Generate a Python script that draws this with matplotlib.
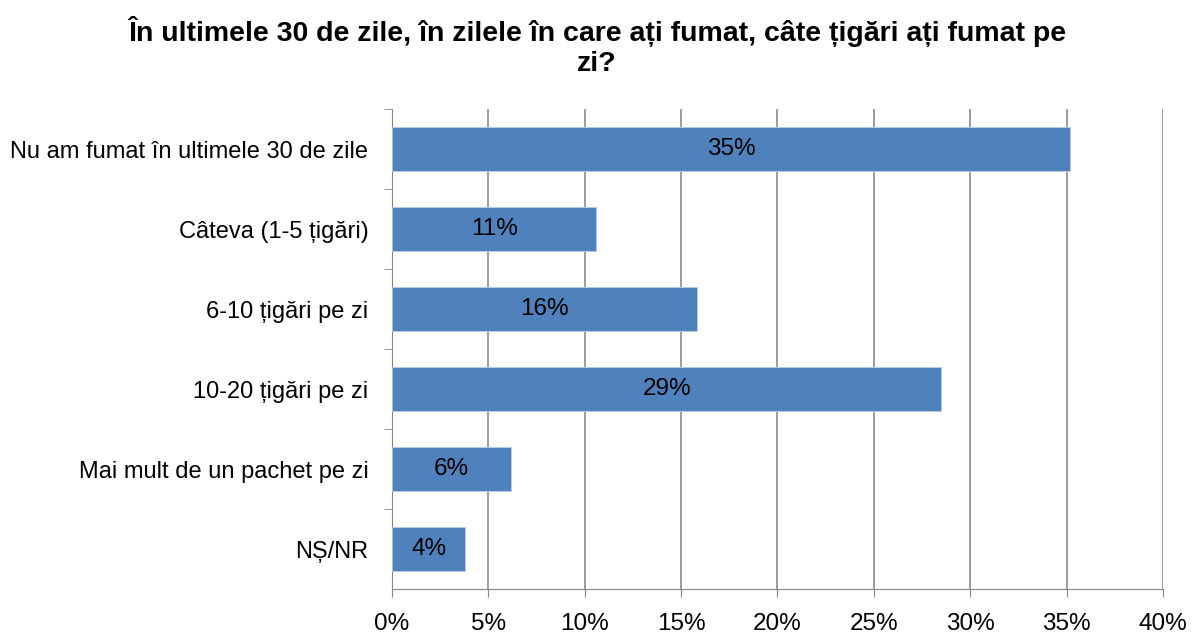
import matplotlib
matplotlib.use("Agg")
import matplotlib.pyplot as plt

plt.rcParams['font.family'] = ['Liberation Sans', 'DejaVu Sans']

categories = [
    'Nu am fumat în ultimele 30 de zile',
    'Câteva (1-5 țigări)',
    '6-10 țigări pe zi',
    '10-20 țigări pe zi',
    'Mai mult de un pachet pe zi',
    'NȘ/NR',
]
values = [35.2, 10.6, 15.8, 28.5, 6.2, 3.8]
labels = ['35%', '11%', '16%', '29%', '6%', '4%']
xticks = [0, 5, 10, 15, 20, 25, 30, 35, 40]

fig = plt.figure(figsize=(11.94, 6.39), dpi=100)
ax = fig.add_axes([0.3283, 0.0782, 0.6457, 0.7512])

pos = list(range(len(categories)))[::-1]
bars = ax.barh(pos, values, height=0.56, color='#4F81BD', edgecolor='#B9CDE5', linewidth=0.6, zorder=3)
for b, lab in zip(bars, labels):
    ax.text(b.get_width() / 2, b.get_y() + b.get_height() / 2, lab,
            ha='center', va='center', fontsize=17.5, color='black', zorder=4)

ax.set_xlim(0, 40)
ax.set_ylim(-0.5, len(categories) - 0.5)
ax.set_xticks(xticks)
ax.set_xticklabels([f'{t}%' for t in xticks], fontsize=17.5)
ax.set_yticks(pos)
ax.set_yticklabels(categories, fontsize=17)
ax.set_yticks([p + 0.5 for p in range(len(categories))], minor=True)
ax.tick_params(axis='y', which='major', length=0, pad=17)
ax.tick_params(axis='y', which='minor', length=6, color='#868686', direction='out')
ax.tick_params(axis='x', length=6, color='#868686', pad=11)
ax.grid(axis='x', color='#8C8C8C', linewidth=1.2, zorder=0)

for s in ['top', 'right']:
    ax.spines[s].set_visible(False)
for s in ['left', 'bottom']:
    ax.spines[s].set_color('#868686')

fig.text(0.5, 0.928, 'În ultimele 30 de zile, în zilele în care ați fumat, câte țigări ați fumat pe\nzi?',
         ha='center', va='center', fontsize=20.5, fontweight='bold', linespacing=1.2)

fig.savefig('out.png', dpi=100)
